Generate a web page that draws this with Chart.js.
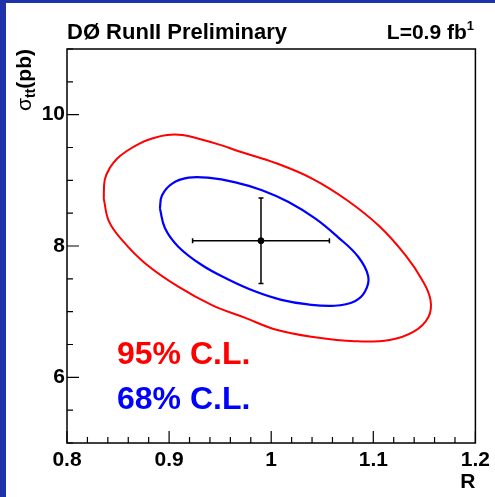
<!DOCTYPE html>
<html>
<head>
<meta charset="utf-8">
<script src="https://cdn.jsdelivr.net/npm/chart.js@4"></script>
<style>
  body { margin: 0; background: #fff; }
  canvas { display: block; }
</style>
</head>
<body>
<canvas id="contours" width="495" height="497"></canvas>
<script>
// Axis ranges and labelled ticks
const rRange = [0.8, 1.2];
const sigmaRange = [5, 11];
const rTickLabels = ["0.8", "0.9", "1", "1.1", "1.2"];
const sigmaTickLabels = ["6", "8", "10"];

// 95% C.L. contour (R, sigma_tt), closed loop
const red95R = [0.836, 0.837, 0.842, 0.849, 0.859, 0.871, 0.884, 0.898, 0.913, 0.930, 0.950, 0.969,
  1.005, 1.041, 1.074, 1.106, 1.132, 1.148, 1.156, 1.154, 1.140, 1.116, 1.082, 1.043, 1.006,
  0.974, 0.942, 0.909, 0.877, 0.854, 0.841, 0.836];
const red95Sigma = [8.72, 9.01, 9.19, 9.33, 9.45, 9.56, 9.64, 9.69, 9.69, 9.63, 9.54, 9.44,
  9.26, 9.02, 8.70, 8.30, 7.85, 7.48, 7.18, 6.92, 6.70, 6.57, 6.55, 6.61, 6.72,
  6.91, 7.10, 7.38, 7.73, 8.09, 8.38, 8.72];

// 68% C.L. contour, closed loop
const blue68R = [0.891, 0.893, 0.903, 0.919, 0.938, 0.965, 0.991, 1.017, 1.043, 1.065, 1.085, 1.095,
  1.092, 1.082, 1.062, 1.036, 1.010, 0.984, 0.958, 0.932, 0.909, 0.896, 0.891];
const blue68Sigma = [8.57, 8.77, 8.95, 9.04, 9.04, 8.97, 8.85, 8.67, 8.42, 8.14, 7.84, 7.54,
  7.31, 7.16, 7.09, 7.11, 7.18, 7.31, 7.49, 7.71, 7.99, 8.27, 8.57];

// Measured point with errors
const centreR = 0.99;
const centreSigma = 8.08;
const errR = 0.067;
const errSigma = 0.65;

const FONT = "'Liberation Sans', Arial, sans-serif";
const BLUE_FRAME = "#1e32aa";

const toPoints = (xs, ys) => xs.map((x, i) => ({ x: x, y: ys[i] }));

const framePlugin = {
  id: "frame",
  beforeDraw(chart) {
    const ctx = chart.ctx;
    ctx.save();
    ctx.fillStyle = "#fff";
    ctx.fillRect(0, 0, chart.width, chart.height);
    ctx.fillStyle = BLUE_FRAME;
    ctx.fillRect(0, 0, chart.width, 3);
    ctx.fillRect(0, 0, 6, chart.height);
    ctx.restore();
  },
  afterDraw(chart) {
    const ctx = chart.ctx;
    const a = chart.chartArea;
    const xs = chart.scales.x;
    const ys = chart.scales.y;
    ctx.save();
    ctx.strokeStyle = "#000";
    ctx.lineWidth = 1.5;
    ctx.strokeRect(a.left, a.top, a.right - a.left, a.bottom - a.top);

    // inward tick marks
    ctx.lineWidth = 1.2;
    ctx.beginPath();
    xs.ticks.forEach((t) => {
      const px = xs.getPixelForValue(t.value);
      const len = t.label ? 12 : 6;
      ctx.moveTo(px, a.bottom);
      ctx.lineTo(px, a.bottom - len);
    });
    ys.ticks.forEach((t) => {
      const py = ys.getPixelForValue(t.value);
      const len = t.label ? 12 : 6;
      ctx.moveTo(a.left, py);
      ctx.lineTo(a.left + len, py);
    });
    ctx.stroke();

    // header
    ctx.fillStyle = "#000";
    ctx.textBaseline = "alphabetic";
    ctx.font = "bold 22px " + FONT;
    ctx.textAlign = "left";
    ctx.fillText("DØ RunII Preliminary", 67, 39);
    ctx.font = "bold 13px " + FONT;
    const supW = ctx.measureText("1").width;
    ctx.textAlign = "right";
    ctx.fillText("1", 474, 30);
    ctx.font = "bold 21px " + FONT;
    ctx.fillText("L=0.9 fb", 474 - supW, 39);

    // axis titles
    ctx.font = "bold 21px " + FONT;
    ctx.fillText("R", a.right, 488);

    ctx.save();
    ctx.translate(31, a.top);
    ctx.rotate(-Math.PI / 2);
    ctx.textAlign = "left";
    const parts = [
      { t: "σ", f: "21px " + FONT, dy: 0 },
      { t: "tt", f: "bold 14px " + FONT, dy: 4 },
      { t: "(pb)", f: "bold 21px " + FONT, dy: 0 }
    ];
    let total = 0;
    parts.forEach((p) => { ctx.font = p.f; p.w = ctx.measureText(p.t).width; total += p.w; });
    let cx = -total;
    parts.forEach((p) => { ctx.font = p.f; ctx.fillText(p.t, cx, p.dy); cx += p.w; });
    ctx.restore();

    // contour labels
    ctx.textAlign = "left";
    ctx.font = "bold 32px " + FONT;
    ctx.fillStyle = "#ff0000";
    ctx.fillText("95% C.L.", xs.getPixelForValue(0.849), ys.getPixelForValue(6.2));
    ctx.fillStyle = "#0000ff";
    ctx.fillText("68% C.L.", xs.getPixelForValue(0.849), ys.getPixelForValue(5.515));
    ctx.restore();
  }
};

const errorBarPlugin = {
  id: "errorBars",
  afterDatasetsDraw(chart) {
    const ctx = chart.ctx;
    const xs = chart.scales.x;
    const ys = chart.scales.y;
    const cx = xs.getPixelForValue(centreR);
    const cy = ys.getPixelForValue(centreSigma);
    const x0 = xs.getPixelForValue(centreR - errR);
    const x1 = xs.getPixelForValue(centreR + errR);
    const y0 = ys.getPixelForValue(centreSigma + errSigma);
    const y1 = ys.getPixelForValue(centreSigma - errSigma);
    const cap = 2.5;
    ctx.save();
    ctx.strokeStyle = "#000";
    ctx.lineWidth = 1.5;
    ctx.beginPath();
    ctx.moveTo(x0, cy); ctx.lineTo(x1, cy);
    ctx.moveTo(cx, y0); ctx.lineTo(cx, y1);
    ctx.moveTo(x0, cy - cap); ctx.lineTo(x0, cy + cap);
    ctx.moveTo(x1, cy - cap); ctx.lineTo(x1, cy + cap);
    ctx.moveTo(cx - cap, y0); ctx.lineTo(cx + cap, y0);
    ctx.moveTo(cx - cap, y1); ctx.lineTo(cx + cap, y1);
    ctx.stroke();
    ctx.restore();
  }
};

new Chart(document.getElementById("contours").getContext("2d"), {
  type: "scatter",
  data: {
    datasets: [
      {
        data: toPoints(red95R, red95Sigma),
        showLine: true,
        borderColor: "#ff0000",
        borderWidth: 2,
        tension: 0.4,
        pointRadius: 0
      },
      {
        data: toPoints(blue68R, blue68Sigma),
        showLine: true,
        borderColor: "#0000ff",
        borderWidth: 2.2,
        tension: 0.4,
        pointRadius: 0
      },
      {
        data: [{ x: centreR, y: centreSigma }],
        pointRadius: 3,
        pointBackgroundColor: "#000",
        pointBorderColor: "#000"
      }
    ]
  },
  options: {
    responsive: false,
    animation: false,
    devicePixelRatio: 1,
    layout: { padding: { left: 0, top: 49, right: 19, bottom: 0 } },
    plugins: { legend: { display: false }, tooltip: { enabled: false } },
    scales: {
      x: {
        type: "linear",
        min: rRange[0],
        max: rRange[1],
        afterFit: (s) => { s.height = 54; },
        border: { display: false },
        grid: { display: false, drawTicks: false },
        ticks: {
          stepSize: 0.02,
          autoSkip: false,
          maxRotation: 0,
          padding: 5,
          color: "#000",
          font: { family: FONT, size: 21, weight: "bold" },
          callback: (v) => {
            const s = String(+v.toFixed(1));
            return Math.abs(v - +s) < 1e-6 && rTickLabels.includes(s) ? s : "";
          }
        }
      },
      y: {
        type: "linear",
        min: sigmaRange[0],
        max: sigmaRange[1],
        afterFit: (s) => { s.width = 67; },
        border: { display: false },
        grid: { display: false, drawTicks: false },
        ticks: {
          stepSize: 0.5,
          autoSkip: false,
          padding: 2,
          color: "#000",
          font: { family: FONT, size: 21, weight: "bold" },
          callback: (v) => {
            const s = String(Math.round(v));
            return Math.abs(v - Math.round(v)) < 1e-6 && sigmaTickLabels.includes(s) ? s : "";
          }
        }
      }
    }
  },
  plugins: [framePlugin, errorBarPlugin]
});
</script>
</body>
</html>
